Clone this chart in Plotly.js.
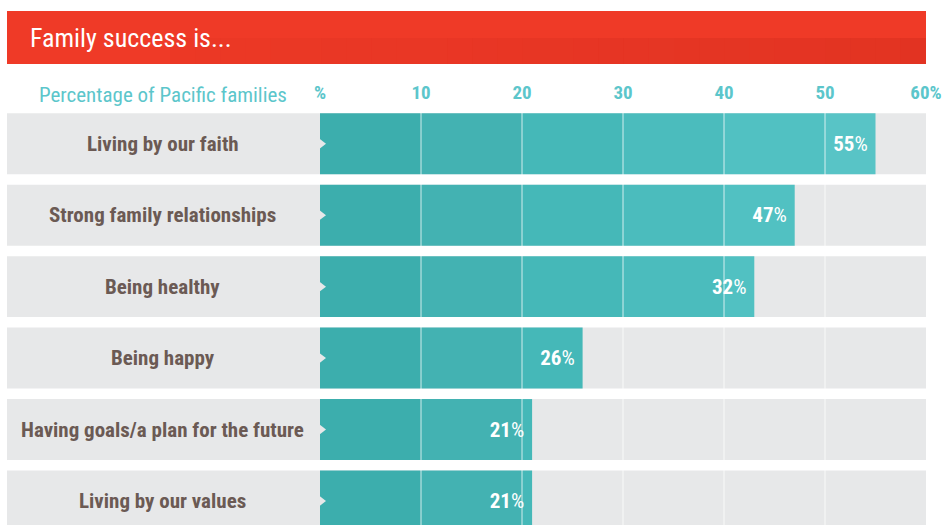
<!DOCTYPE html>
<html><head><meta charset="utf-8">
<script src="https://cdn.plot.ly/plotly-3.0.1.min.js"></script>
<style>html,body{margin:0;padding:0;background:#fff;}#chart{width:944px;height:525px;}</style>
</head><body><div id="chart"></div>
<script>
// Data
const categories = ["Living by our faith","Strong family relationships","Being healthy","Being happy","Having goals/a plan for the future","Living by our values"];
const barValues = [55, 47, 43, 26, 21, 21];      // bar lengths as drawn
const labelValues = [55, 47, 32, 26, 21, 21];    // printed percentages
const tickValues = [0, 10, 20, 30, 40, 50, 60];
const tickLabels = ["%", "10", "20", "30", "40", "50", "60%"];
const gridValues = [10, 20, 30, 40, 50];
const bandColors = ["#3caead", "#43b2b2", "#45b8b8", "#4bbcbd", "#51c1c2", "#58c4c6"];

const W = 944, H = 525;
const L = 320, R = 926, T = 108, B = 525;
const pw = R - L, ph = B - T;
const px = p => (p - L) / pw;          // pixel x -> paper x
const py = p => (B - p) / ph;          // pixel y -> paper y
const condensed = "'Roboto Condensed','Liberation Sans Narrow','DejaVu Sans Condensed',Roboto,sans-serif";
const half = 0.4266;

const shapes = [];
// header bar with subtle darkening on lower right
shapes.push({type:'rect', xref:'paper', yref:'paper', x0:px(7), x1:1, y0:py(64), y1:py(11), fillcolor:'#ef3a27', line:{width:0}, layer:'below'});
const nSeg = 30, segStart = 170;
for (let k = 0; k < nSeg; k++) {
  const a = segStart + (R - segStart) * k / nSeg, b = segStart + (R - segStart) * (k + 1) / nSeg;
  shapes.push({type:'rect', xref:'paper', yref:'paper', x0:px(a), x1:px(b), y0:py(64), y1:py(38),
    fillcolor:'rgba(150,15,10,' + (0.03 + 0.11 * k / (nSeg - 1)).toFixed(3) + ')', line:{width:0}, layer:'below'});
}
// grey row panels
categories.forEach((c, i) => {
  shapes.push({type:'rect', xref:'paper', yref:'y', x0:px(7), x1:1, y0:i-half, y1:i+half, fillcolor:'#e7e8e9', line:{width:0}, layer:'below'});
});
// light vertical grid lines above bars
gridValues.forEach(v => {
  shapes.push({type:'line', xref:'x', yref:'paper', x0:v, x1:v, y0:0, y1:py(113), line:{color:'rgba(255,255,255,0.38)', width:2}, layer:'above'});
});

const annotations = [];
categories.forEach((c, i) => {
  annotations.push({xref:'paper', yref:'y', x:px(163), y:i, text:'<b>'+c+'</b>', showarrow:false, xanchor:'center', yanchor:'middle',
    font:{family:condensed, size:21, color:'#6b5a54'}});
});
annotations.push({xref:'paper', yref:'paper', x:px(163), y:py(95), text:'Percentage of Pacific families', showarrow:false, xanchor:'center', yanchor:'middle',
  font:{family:condensed, size:21, color:'#5cc6cb'}});

// banded segments of each bar (computed from barValues and the grid)
const traces = [];
bandColors.forEach((col, k) => {
  const lo = k * 10, hi = lo + 10;
  traces.push({
    type:'bar', orientation:'h', y:categories,
    base: barValues.map(() => lo),
    x: barValues.map(v => Math.max(0, Math.min(v, hi) - lo)),
    width: 2*half, marker:{color:col, line:{width:0}}, hoverinfo:'skip'
  });
});
// label trace (transparent bar carrying the printed value)
traces.push({
  type:'bar', orientation:'h', x:barValues, y:categories, base:barValues.map(() => 0),
  width: 2*half,
  marker:{color:'rgba(0,0,0,0)', line:{width:0}},
  text: labelValues.map(v => '<b>'+v+'</b>%&nbsp;'),
  textposition:'inside', insidetextanchor:'end',
  textfont:{family:condensed, size:21, color:'#ffffff'},
  hoverinfo:'skip', cliponaxis:true
});
traces.push({
  type:'scatter', mode:'markers', x:categories.map(() => 0), y:categories,
  marker:{symbol:'triangle-right', size:12, color:'#e7e8e9'},
  hoverinfo:'skip', cliponaxis:false, showlegend:false
});

const layout = {
  width:W, height:H,
  margin:{l:L, r:W-R, t:T, b:H-B, pad:0},
  paper_bgcolor:'#ffffff', plot_bgcolor:'rgba(0,0,0,0)',
  showlegend:false, barmode:'overlay',
  title:{text:'Family success is...', xref:'container', yref:'container', x:30/W, y:1-38/H, xanchor:'left', yanchor:'middle',
    font:{family:condensed, size:26, color:'#ffffff'}},
  xaxis:{range:[0,60], side:'top', tickmode:'array', tickvals:tickValues, ticktext:tickLabels,
    showgrid:false, zeroline:false, showline:false, ticks:'', ticklabelstandoff:4,
    tickfont:{family:condensed, size:19, color:'#5cc6cb', weight:'bold'}, fixedrange:true},
  yaxis:{type:'category', categoryarray:categories, categoryorder:'array', range:[5.836-0.5, -0.5],
    showticklabels:false, showgrid:false, zeroline:false, showline:false, ticks:'', fixedrange:true},
  shapes:shapes, annotations:annotations
};
Plotly.newPlot('chart', traces, layout, {displayModeBar:false, staticPlot:true});
</script></body></html>
